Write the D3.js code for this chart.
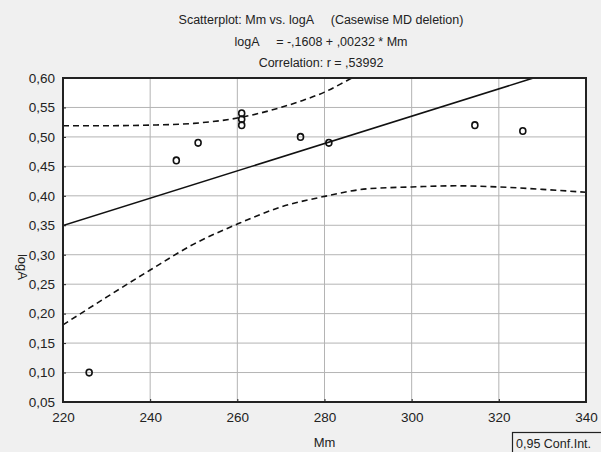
<!DOCTYPE html>
<html>
<head>
<meta charset="utf-8">
<script src="https://cdn.jsdelivr.net/npm/d3@7"></script>
<style>
  body { margin: 0; background: #f0f0f0; }
  svg { display: block; font-family: "Liberation Sans", Arial, sans-serif; }
</style>
</head>
<body>
<svg id="chart" width="601" height="452"></svg>
<script>
// observations
const mm   = [226, 246, 251, 261, 261, 261, 274.5, 281, 314.5, 325.5];
const logA = [0.10, 0.46, 0.49, 0.54, 0.53, 0.52, 0.50, 0.49, 0.52, 0.51];

// regression line
const intercept = -0.1608;
const slope = 0.00232;

// 0,95 confidence band
const upperX = [220, 230, 240, 250, 260, 265, 270, 275, 280, 285, 290];
const upperY = [0.519, 0.519, 0.520, 0.523, 0.532, 0.540, 0.550, 0.562, 0.576, 0.595, 0.615];
const lowerX = [220, 230, 240, 250, 260, 270, 280, 290, 300, 310, 320, 330, 340];
const lowerY = [0.181, 0.228, 0.274, 0.318, 0.352, 0.381, 0.399, 0.412, 0.415, 0.417, 0.415, 0.411, 0.406];

const xTicks = [220, 240, 260, 280, 300, 320, 340];
const yTicks = [0.05, 0.10, 0.15, 0.20, 0.25, 0.30, 0.35, 0.40, 0.45, 0.50, 0.55, 0.60];

const margin = { top: 78, right: 15, bottom: 50, left: 63 };
const W = 601, H = 452;
const width = W - margin.left - margin.right;
const height = H - margin.top - margin.bottom;

const svg = d3.select("#chart");

const x = d3.scaleLinear().domain([220, 340]).range([0, width]);
const y = d3.scaleLinear().domain([0.05, 0.60]).range([height, 0]);
const comma = d => d3.format(".2f")(d).replace(".", ",");

svg.append("defs").append("clipPath").attr("id", "clip")
  .append("rect").attr("width", width).attr("height", height);

const g = svg.append("g").attr("transform", `translate(${margin.left},${margin.top})`);

g.append("rect").attr("width", width).attr("height", height).attr("fill", "#fff");

// grid
g.append("g").selectAll("line").data(yTicks.slice(1, -1)).enter().append("line")
  .attr("x1", 0).attr("x2", width)
  .attr("y1", d => y(d)).attr("y2", d => y(d))
  .attr("stroke", "#b4b4b4").attr("stroke-width", 1);
g.append("g").selectAll("line").data(xTicks.slice(1, -1)).enter().append("line")
  .attr("y1", 0).attr("y2", height)
  .attr("x1", d => x(d)).attr("x2", d => x(d))
  .attr("stroke", "#b4b4b4").attr("stroke-width", 1);

// axes
const yAxis = g.append("g").call(d3.axisLeft(y).tickValues(yTicks).tickFormat(comma).tickSize(-3).tickPadding(8));
const xAxis = g.append("g").attr("transform", `translate(0,${height})`)
  .call(d3.axisBottom(x).tickValues(xTicks).tickFormat(d3.format("d")).tickSize(-3).tickPadding(10));
[yAxis, xAxis].forEach(a => {
  a.select(".domain").remove();
  a.selectAll("line").attr("stroke", "#222");
  a.selectAll("text").attr("font-size", 13.5).attr("fill", "#222")
    .attr("font-family", "Liberation Sans, Arial, sans-serif");
});

const plot = g.append("g").attr("clip-path", "url(#clip)");

// confidence band
const line = d3.line().x(d => x(d[0])).y(d => y(d[1])).curve(d3.curveMonotoneX);
[[upperX, upperY], [lowerX, lowerY]].forEach(([xs, ys]) => {
  plot.append("path")
    .attr("d", line(xs.map((v, i) => [v, ys[i]])))
    .attr("fill", "none").attr("stroke", "#111")
    .attr("stroke-width", 1.6).attr("stroke-dasharray", "6,4");
});

// regression line
plot.append("line")
  .attr("x1", x(220)).attr("y1", y(intercept + slope * 220))
  .attr("x2", x(340)).attr("y2", y(intercept + slope * 340))
  .attr("stroke", "#111").attr("stroke-width", 1.6);

// points
plot.selectAll("ellipse").data(mm).enter().append("ellipse")
  .attr("cx", d => x(d)).attr("cy", (d, i) => y(logA[i]))
  .attr("rx", 3).attr("ry", 3.3)
  .attr("fill", "none").attr("stroke", "#111").attr("stroke-width", 1.6);

// frame
g.append("rect").attr("width", width).attr("height", height)
  .attr("fill", "none").attr("stroke", "#222").attr("stroke-width", 2);

// titles
const titles = [
  ["Scatterplot: Mm vs. logA     (Casewise MD deletion)", 24],
  ["logA     = -,1608 + ,00232 * Mm", 46],
  ["Correlation: r = ,53992", 67]
];
svg.selectAll(".title").data(titles).enter().append("text")
  .attr("class", "title")
  .attr("x", 321).attr("y", d => d[1])
  .attr("text-anchor", "middle").attr("font-size", 12.5).attr("fill", "#222")
  .style("white-space", "pre")
  .text(d => d[0]);

svg.append("text")
  .attr("x", margin.left + width / 2).attr("y", 447)
  .attr("text-anchor", "middle").attr("font-size", 13).attr("fill", "#222")
  .text("Mm");

svg.append("text")
  .attr("transform", "translate(18,267) rotate(90)")
  .attr("text-anchor", "middle").attr("font-size", 13).attr("fill", "#222")
  .text("logA");

// legend
svg.append("rect").attr("x", 512.5).attr("y", 432.5).attr("width", 100).attr("height", 30)
  .attr("fill", "none").attr("stroke", "#222").attr("stroke-width", 1.2);
svg.append("text").attr("x", 516).attr("y", 448)
  .attr("font-size", 12.5).attr("fill", "#222")
  .text("0,95 Conf.Int.");
</script>
</body>
</html>
